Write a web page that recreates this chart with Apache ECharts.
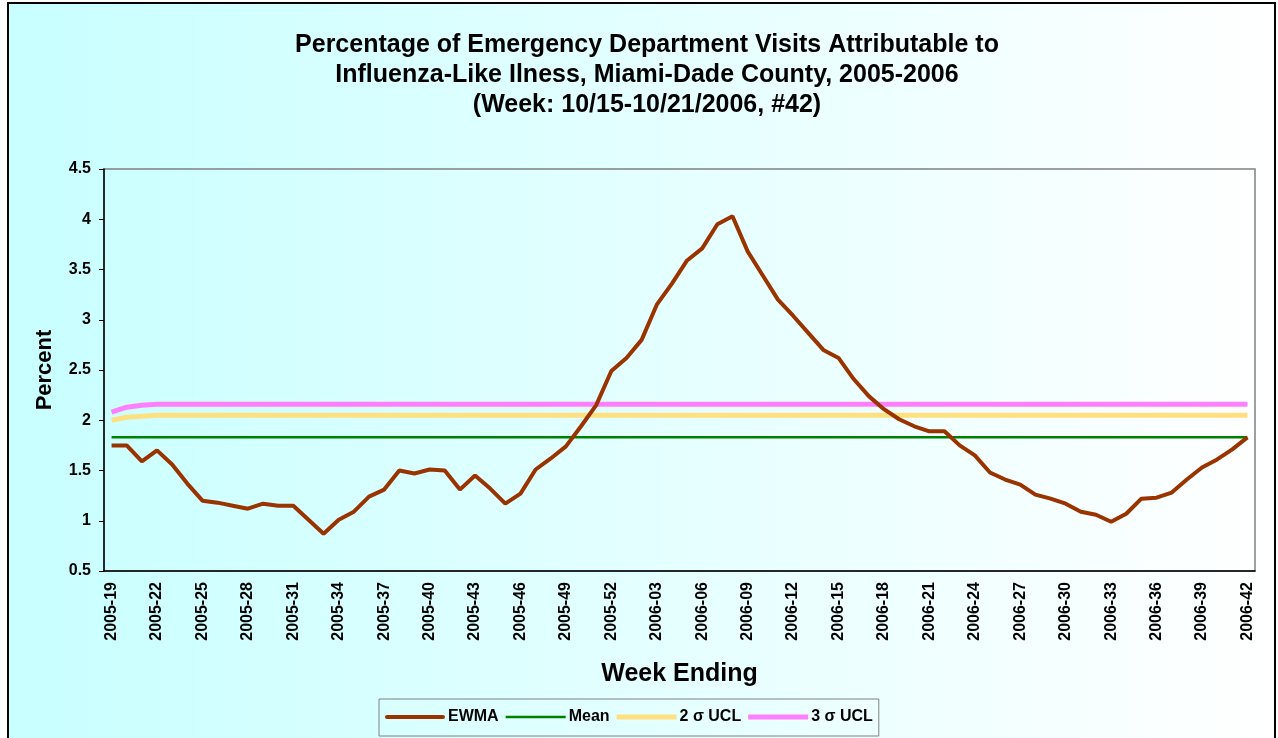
<!DOCTYPE html>
<html>
<head>
<meta charset="utf-8">
<script src="https://cdn.jsdelivr.net/npm/echarts@6/dist/echarts.min.js"></script>
<style>
html,body{margin:0;padding:0;background:#fff;}
#chart{width:1278px;height:738px;}
</style>
</head>
<body>
<div id="chart"></div>
<script>
const weeks = [
  '2005-19','2005-20','2005-21','2005-22','2005-23','2005-24','2005-25','2005-26','2005-27','2005-28',
  '2005-29','2005-30','2005-31','2005-32','2005-33','2005-34','2005-35','2005-36','2005-37','2005-38',
  '2005-39','2005-40','2005-41','2005-42','2005-43','2005-44','2005-45','2005-46','2005-47','2005-48',
  '2005-49','2005-50','2005-51','2005-52','2006-01','2006-02','2006-03','2006-04','2006-05','2006-06',
  '2006-07','2006-08','2006-09','2006-10','2006-11','2006-12','2006-13','2006-14','2006-15','2006-16',
  '2006-17','2006-18','2006-19','2006-20','2006-21','2006-22','2006-23','2006-24','2006-25','2006-26',
  '2006-27','2006-28','2006-29','2006-30','2006-31','2006-32','2006-33','2006-34','2006-35','2006-36',
  '2006-37','2006-38','2006-39','2006-40','2006-41','2006-42'
];
const ewma = [
  1.75,1.75,1.59,1.70,1.56,1.37,1.20,1.18,1.15,1.12,
  1.17,1.15,1.15,1.01,0.87,1.01,1.09,1.24,1.31,1.50,
  1.47,1.51,1.50,1.31,1.45,1.32,1.17,1.27,1.51,1.62,
  1.74,1.94,2.15,2.49,2.62,2.80,3.15,3.36,3.59,3.71,
  3.95,4.03,3.68,3.44,3.20,3.04,2.87,2.70,2.62,2.41,
  2.24,2.11,2.01,1.94,1.89,1.89,1.75,1.65,1.48,1.41,
  1.36,1.26,1.22,1.17,1.09,1.06,0.99,1.07,1.22,1.23,
  1.28,1.41,1.53,1.61,1.71,1.83
];
const mean = [
  1.83,1.83,1.83,1.83,1.83,1.83,1.83,1.83,1.83,1.83,
  1.83,1.83,1.83,1.83,1.83,1.83,1.83,1.83,1.83,1.83,
  1.83,1.83,1.83,1.83,1.83,1.83,1.83,1.83,1.83,1.83,
  1.83,1.83,1.83,1.83,1.83,1.83,1.83,1.83,1.83,1.83,
  1.83,1.83,1.83,1.83,1.83,1.83,1.83,1.83,1.83,1.83,
  1.83,1.83,1.83,1.83,1.83,1.83,1.83,1.83,1.83,1.83,
  1.83,1.83,1.83,1.83,1.83,1.83,1.83,1.83,1.83,1.83,
  1.83,1.83,1.83,1.83,1.83,1.83
];
const ucl2 = [
  2.00,2.03,2.04,2.05,2.05,2.05,2.05,2.05,2.05,2.05,
  2.05,2.05,2.05,2.05,2.05,2.05,2.05,2.05,2.05,2.05,
  2.05,2.05,2.05,2.05,2.05,2.05,2.05,2.05,2.05,2.05,
  2.05,2.05,2.05,2.05,2.05,2.05,2.05,2.05,2.05,2.05,
  2.05,2.05,2.05,2.05,2.05,2.05,2.05,2.05,2.05,2.05,
  2.05,2.05,2.05,2.05,2.05,2.05,2.05,2.05,2.05,2.05,
  2.05,2.05,2.05,2.05,2.05,2.05,2.05,2.05,2.05,2.05,
  2.05,2.05,2.05,2.05,2.05,2.05
];
const ucl3 = [
  2.08,2.13,2.15,2.16,2.16,2.16,2.16,2.16,2.16,2.16,
  2.16,2.16,2.16,2.16,2.16,2.16,2.16,2.16,2.16,2.16,
  2.16,2.16,2.16,2.16,2.16,2.16,2.16,2.16,2.16,2.16,
  2.16,2.16,2.16,2.16,2.16,2.16,2.16,2.16,2.16,2.16,
  2.16,2.16,2.16,2.16,2.16,2.16,2.16,2.16,2.16,2.16,
  2.16,2.16,2.16,2.16,2.16,2.16,2.16,2.16,2.16,2.16,
  2.16,2.16,2.16,2.16,2.16,2.16,2.16,2.16,2.16,2.16,
  2.16,2.16,2.16,2.16,2.16,2.16
];
const titleText = 'Percentage of Emergency Department Visits Attributable to\nInfluenza-Like Ilness, Miami-Dade County, 2005-2006\n(Week: 10/15-10/21/2006, #42)';
const seriesNames = ['EWMA', 'Mean', '2 σ UCL', '3 σ UCL'];

const FONT = '"Liberation Sans", Arial, sans-serif';
const chart = echarts.init(document.getElementById('chart'), null, {renderer: 'canvas'});
chart.setOption({
  animation: false,
  backgroundColor: '#ffffff',
  textStyle: {fontFamily: FONT},
  graphic: [{
    type: 'rect', z: -10, silent: true,
    shape: {x: 8, y: 3, width: 1267, height: 745},
    style: {
      fill: new echarts.graphic.LinearGradient(0, 0, 1, 0, [
        {offset: 0, color: '#C8FFFF'},
        {offset: 1, color: '#FFFFFF'}
      ]),
      stroke: '#000000', lineWidth: 2
    }
  }, {
    type: 'text', silent: true, x: 647, y: 30,
    style: {
      text: titleText,
      fill: '#000', align: 'center', verticalAlign: 'top',
      font: 'bold 25px "Liberation Sans", Arial, sans-serif',
      lineHeight: 30
    }
  }],
  legend: {
    data: [
      {name: seriesNames[0], icon: 'path://M2,0H58A2,2 0 0 1 58,4H2A2,2 0 0 1 2,0Z'},
      {name: seriesNames[1], icon: 'path://M0,0H60V2.5H0Z'},
      {name: seriesNames[2], icon: 'path://M0,0H60V5H0Z'},
      {name: seriesNames[3], icon: 'path://M0,0H60V5H0Z'}
    ],
    left: 379, top: 699,
    width: 520,
    itemWidth: 60, itemHeight: 14, itemGap: 7,
    symbolKeepAspect: true,
    padding: [10, 6, 11, 6],
    borderColor: '#808080', borderWidth: 1,
    textStyle: {fontFamily: FONT, fontSize: 16, fontWeight: 'bold', color: '#000', padding: [0, 0, 0, -2]}
  },
  grid: {
    left: 104, right: 23, top: 169, bottom: 167,
    show: true, borderColor: '#808080', borderWidth: 1.5, backgroundColor: 'transparent'
  },
  xAxis: {
    type: 'category', data: weeks, boundaryGap: true,
    name: 'Week Ending', nameLocation: 'middle', nameGap: 91,
    nameTextStyle: {fontFamily: FONT, fontSize: 25, fontWeight: 'bold', color: '#000'},
    axisLine: {lineStyle: {color: '#000', width: 1.5}},
    axisTick: {interval: 0, length: 5, lineStyle: {color: '#000'}},
    axisLabel: {interval: 2, rotate: 90, margin: 11, fontFamily: FONT, fontSize: 16, fontWeight: 'bold', color: '#000'},
    splitLine: {show: false}
  },
  yAxis: {
    type: 'value', min: 0.5, max: 4.5, interval: 0.5,
    name: 'Percent', nameLocation: 'middle', nameGap: 48, nameRotate: 90,
    nameTextStyle: {fontFamily: FONT, fontSize: 22, fontWeight: 'bold', color: '#000'},
    axisLine: {show: true, lineStyle: {color: '#000', width: 1.5}},
    axisTick: {show: true, length: 5, lineStyle: {color: '#000'}},
    axisLabel: {margin: 13, fontFamily: FONT, fontSize: 16, fontWeight: 'bold', color: '#000'},
    splitLine: {show: false}
  },
  series: [
    {name: 'EWMA', type: 'line', data: ewma, symbol: 'none', z: 10,
     lineStyle: {color: '#993300', width: 4}, itemStyle: {color: '#993300'}},
    {name: 'Mean', type: 'line', data: mean, symbol: 'none', z: 5,
     lineStyle: {color: '#008000', width: 2.5}, itemStyle: {color: '#008000'}},
    {name: '2 σ UCL', type: 'line', data: ucl2, symbol: 'none', z: 4,
     lineStyle: {color: '#FFE080', width: 5}, itemStyle: {color: '#FFE080'}},
    {name: '3 σ UCL', type: 'line', data: ucl3, symbol: 'none', z: 4,
     lineStyle: {color: '#FF80FF', width: 5}, itemStyle: {color: '#FF80FF'}}
  ]
});
</script>
</body>
</html>
